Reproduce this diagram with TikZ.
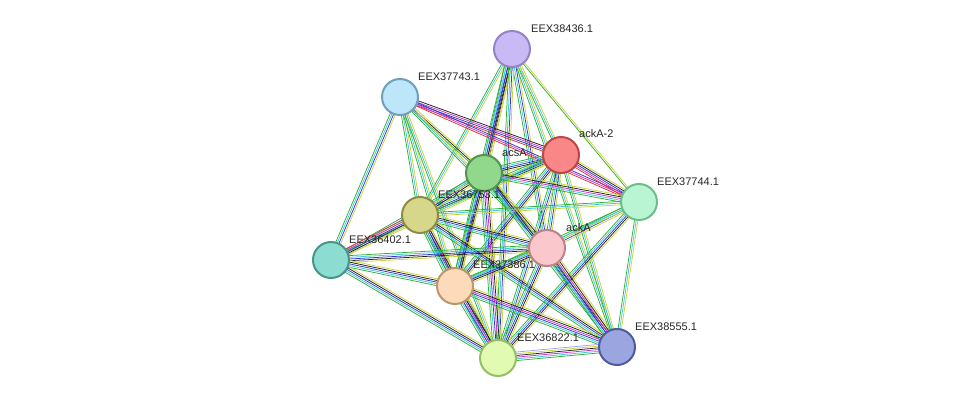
\documentclass[tikz,border=0pt]{standalone}
\usepackage{fontspec}
\setmainfont{Liberation Sans}
\usetikzlibrary{calc,backgrounds}
\definecolor{sg}{HTML}{33B033}\definecolor{sc}{HTML}{45C8E0}\definecolor{sb}{HTML}{3535CC}
\definecolor{sk}{HTML}{222222}\definecolor{sy}{HTML}{C8D43A}\definecolor{sm}{HTML}{CC33CC}
\definecolor{sr}{HTML}{E03030}\definecolor{sl}{HTML}{A0A0F0}
\newcommand\bund[3]{%
 \foreach \c [count=\i] in #3{\xdef\nn{\i}}%
 \foreach \c [count=\i] in #3{%
  \pgfmathsetmacro\o{(\i-(\nn+1)/2)*1.7}%
  \draw[\c,line width=0.75pt] ($(#1.center)!\o pt!90:(#2.center)$) -- ($(#2.center)!\o pt!-90:(#1.center)$);}}
\tikzset{prot/.style={circle,minimum size=36pt,line width=2pt,inner sep=0pt},
 lab/.style={font=\fontsize{11}{13}\selectfont,text=black!85,anchor=south west,inner sep=0pt}}
\begin{document}
\begin{tikzpicture}[x=1pt,y=-1pt]
\useasboundingbox (0,0) rectangle (975,404);
\node[prot,fill={rgb,255:red,201;green,186;blue,245},draw={rgb,255:red,150;green,130;blue,200}] (n1) at (512,49) {};
\node[prot,fill={rgb,255:red,190;green,230;blue,250},draw={rgb,255:red,110;green,160;blue,190}] (n2) at (400,97) {};
\node[prot,fill={rgb,255:red,250;green,135;blue,135},draw={rgb,255:red,190;green,70;blue,70}] (n3) at (561,155) {};
\node[prot,fill={rgb,255:red,145;green,215;blue,140},draw={rgb,255:red,80;green,150;blue,80}] (n4) at (484,173) {};
\node[prot,fill={rgb,255:red,185;green,245;blue,210},draw={rgb,255:red,110;green,190;blue,140}] (n5) at (639,202) {};
\node[prot,fill={rgb,255:red,215;green,215;blue,140},draw={rgb,255:red,140;green,140;blue,70}] (n6) at (420,215) {};
\node[prot,fill={rgb,255:red,250;green,200;blue,204},draw={rgb,255:red,190;green,130;blue,135}] (n7) at (547,248) {};
\node[prot,fill={rgb,255:red,140;green,220;blue,210},draw={rgb,255:red,70;green,150;blue,140}] (n8) at (331,260) {};
\node[prot,fill={rgb,255:red,252;green,218;blue,186},draw={rgb,255:red,190;green,150;blue,110}] (n9) at (455,286) {};
\node[prot,fill={rgb,255:red,225;green,252;blue,178},draw={rgb,255:red,150;green,190;blue,100}] (n10) at (498,358) {};
\node[prot,fill={rgb,255:red,155;green,166;blue,224},draw={rgb,255:red,80;green,90;blue,160}] (n11) at (617,347) {};
\begin{scope}[on background layer]
\foreach \a/\b/\cl in {
 n1/n4/{sg,sc,sb,sk,sy}, n1/n3/{sg,sc,sy}, n1/n6/{sg,sc,sy}, n1/n7/{sg,sc,sb,sy}, n1/n9/{sg,sc,sb,sk,sy},
 n1/n10/{sg,sc,sb,sy}, n1/n5/{sg,sy}, n1/n11/{sg,sc,sy},
 n2/n4/{sg,sk,sy}, n2/n3/{sr,sb,sm,sk}, n2/n5/{sr,sm,sb}, n2/n6/{sg,sc,sy}, n2/n7/{sg,sc,sy}, n2/n8/{sg,sc,sb,sy},
 n2/n9/{sg,sc,sy}, n2/n10/{sg,sc,sy},
 n3/n4/{sg,sc,sb,sk,sy}, n3/n5/{sr,sm,sb,sk,sy}, n3/n6/{sg,sc,sb,sk,sy}, n3/n7/{sg,sc,sb,sy}, n3/n9/{sg,sc,sb,sk,sy},
 n3/n10/{sg,sc,sb,sy}, n3/n11/{sg,sc,sy}, n3/n8/{sg,sc,sy},
 n4/n5/{sg,sc,sm,sk,sy}, n4/n6/{sg,sc,sb,sk,sy}, n4/n7/{sg,sc,sb,sk,sy}, n4/n9/{sg,sc,sb,sk,sy}, n4/n10/{sg,sc,sb,sm,sk,sy},
 n4/n11/{sg,sc,sb,sk,sy}, n4/n8/{sg,sc,sy},
 n5/n6/{sg,sc,sy}, n5/n7/{sg,sc,sb,sy}, n5/n9/{sg,sc,sy}, n5/n10/{sg,sc,sb,sk,sy}, n5/n11/{sg,sc,sy},
 n6/n7/{sg,sc,sb,sk,sy}, n6/n8/{sr,sm,sb,sk,sy}, n6/n9/{sg,sc,sb,sk,sm,sy}, n6/n10/{sg,sc,sb,sk,sy}, n6/n11/{sg,sc,sb,sk,sy},
 n7/n8/{sg,sc,sb,sk,sy}, n7/n9/{sg,sc,sb,sk,sy}, n7/n10/{sg,sc,sb,sk,sy}, n7/n11/{sg,sc,sb,sm,sk,sy},
 n8/n9/{sg,sc,sb,sk,sy}, n8/n10/{sg,sc,sb,sk,sy},
 n9/n10/{sg,sc,sb,sm,sk,sy}, n9/n11/{sg,sc,sb,sm,sk,sy},
 n10/n11/{sg,sc,sm,sk,sy,sl}}
 {\bund{\a}{\b}{\cl}}
\end{scope}
\node[lab] (l1) at (531,33) {EEX38436.1};
\node[lab] (l2) at (418,81) {EEX37743.1};
\node[lab] (l3) at (579,138) {ackA-2};
\node[lab] (l4) at (502,157) {acsA};
\node[lab] (l5) at (657,186) {EEX37744.1};
\node[lab] (l6) at (438,199) {EEX36753.1};
\node[lab] (l7) at (566,232) {ackA};
\node[lab] (l8) at (349,244) {EEX36402.1};
\node[lab] (l9) at (473,269) {EEX37386.1};
\node[lab] (l10) at (517,342) {EEX36822.1};
\node[lab] (l11) at (635,331) {EEX38555.1};
\end{tikzpicture}
\end{document}
